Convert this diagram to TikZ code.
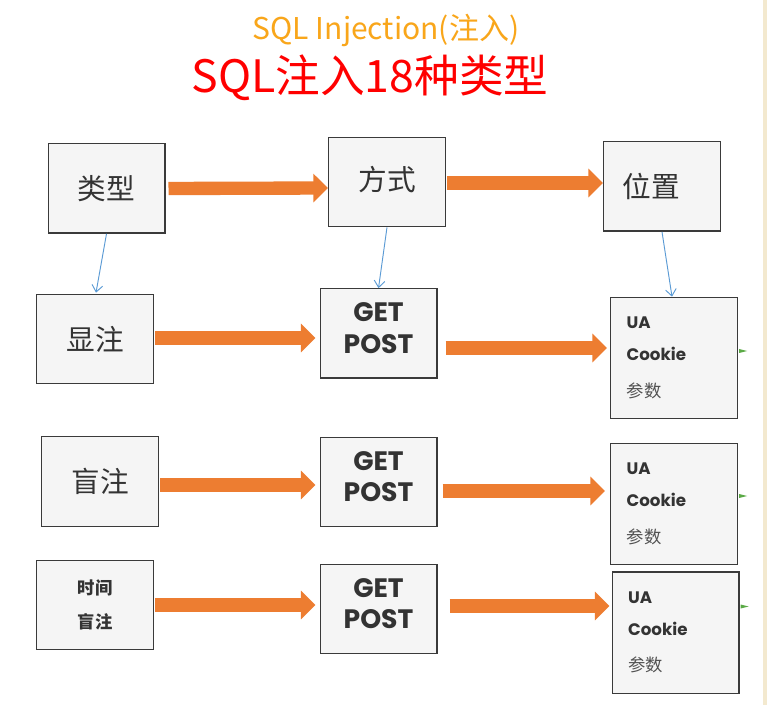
\documentclass[tikz,border=0pt]{standalone}
\usepackage{fontspec}
\setmainfont{Noto Sans CJK SC}
\newfontfamily\geo{Poppins}
\usetikzlibrary{arrows.meta,calc}
\definecolor{boxline}{HTML}{3A3A3A}
\definecolor{boxfill}{HTML}{F5F5F5}
\definecolor{txt}{HTML}{333333}
\definecolor{fatorange}{HTML}{ED7D31}
\definecolor{thinblue}{HTML}{5B9BD5}
\definecolor{titleorange}{HTML}{F9A61A}
\definecolor{markgreen}{HTML}{5BAA46}
\definecolor{stripbeige}{HTML}{F3E9CF}
\begin{document}
\begin{tikzpicture}[x=0.75pt,y=-0.75pt,
  box/.style={draw=boxline, fill=boxfill, line width=1pt, inner sep=0pt, text=txt, align=center,
    minimum width=87.5pt, minimum height=67pt},
  ubox/.style={draw=boxline, fill=boxfill, line width=1pt, text=txt,
    minimum width=95pt, minimum height=91pt, text width=71pt, inner xsep=12pt, align=left,
    font=\fontsize{12.5}{26}\selectfont},
  bigcjk/.style={font=\fontsize{21.5}{24}\selectfont},
  getpost/.style={font=\geo\bfseries\fontsize{20}{24}\selectfont},
  fat/.style={draw=fatorange, line width=10pt, -{Triangle[length=11pt,width=21pt]}},
  thin/.style={draw=thinblue, line width=0.7pt, -{Straight Barb[length=5pt,width=8pt]}}]
\useasboundingbox (0,0) rectangle (767,705);
\fill[white] (0,0) rectangle (767,705);
\fill[stripbeige] (763,0) rectangle (767,705);

\node (title1) at (386,30) {\fontsize{22.5}{26}\selectfont\color{titleorange}SQL Injection(注入)};
\node (title2) at (370,78) {\fontsize{33.5}{38}\selectfont\color{red}SQL注入18种类型};

\node[box, bigcjk] (t) at (106.5,188.5) {类型};
\node[box, bigcjk] (m) at (387,182) {方式\\[-18pt]\mbox{}};
\node[box, bigcjk] (p) at (662,186.5) {位置\hspace*{16pt}};

\node[box, bigcjk] (a1) at (95,339) {显注};
\node[box, getpost] (b1) at (378.5,333.5) {GET\\[-0.5pt]POST\\[-16pt]\mbox{}};
\node[ubox] (c1) at (674,358) {{\geo\bfseries UA}\\[-2pt]{\geo\bfseries Cookie}\\[1.5pt]{\fontsize{13}{26}\selectfont\color{txt!85}参数}};

\node[box, bigcjk] (a2) at (100,481.5) {盲注};
\node[box, getpost] (b2) at (378.5,482) {GET\\[-0.5pt]POST\\[-16pt]\mbox{}};
\node[ubox] (c2) at (674,504) {{\geo\bfseries UA}\\[-2pt]{\geo\bfseries Cookie}\\[1.5pt]{\fontsize{13}{26}\selectfont\color{txt!85}参数}};

\node[box, font=\bfseries\fontsize{13}{26}\selectfont] (a3) at (95,605) {时间\\盲注};
\node[box, getpost] (b3) at (378.5,609) {GET\\[-0.5pt]POST\\[-16pt]\mbox{}};
\node[ubox] (c3) at (675.5,632.5) {{\geo\bfseries UA}\\[-2pt]{\geo\bfseries Cookie}\\[1.5pt]{\fontsize{13}{26}\selectfont\color{txt!85}参数}};

% fat orange arrows
\draw[fat] ($(t.east)+(3,0)$) -- ($(m.west)+(0,6)$);
\draw[fat] ($(m.east)+(1,1)$) -- ($(p.west)+(0,-3.5)$);
\draw[fat] ($(a1.east)+(1,-1)$) -- ($(b1.west)+(-4,4.5)$);
\draw[fat] ($(b1.east)+(8,14.5)$) -- ($(c1.west)+(-3,-10)$);
\draw[fat] ($(a2.east)+(1,3.5)$) -- ($(b2.west)+(-4,3)$);
\draw[fat] ($(b2.east)+(5,9)$) -- ($(c2.west)+(-5,-13)$);
\draw[fat] ($(a3.east)+(1,0)$) -- ($(b3.west)+(-4,-4)$);
\draw[fat] ($(b3.east)+(12,-3)$) -- ($(c3.west)+(-2,-26.5)$);

% thin blue arrows
\draw[thin] (t.south) -- ($(a1.north)+(1,-1)$);
\draw[thin] (m.south) -- (b1.north);
\draw[thin] (p.south) -- ($(c1.north)+(-2,0)$);

% small green tips
\fill[markgreen] ($(c1.east)+(1,-9)$) -- ++(8,2) -- ++(-8,2) -- cycle;
\fill[markgreen] ($(c2.east)+(1,-10)$) -- ++(8,2) -- ++(-8,2) -- cycle;
\fill[markgreen] ($(c3.east)+(1,-28)$) -- ++(8,2) -- ++(-8,2) -- cycle;
\end{tikzpicture}
\end{document}
